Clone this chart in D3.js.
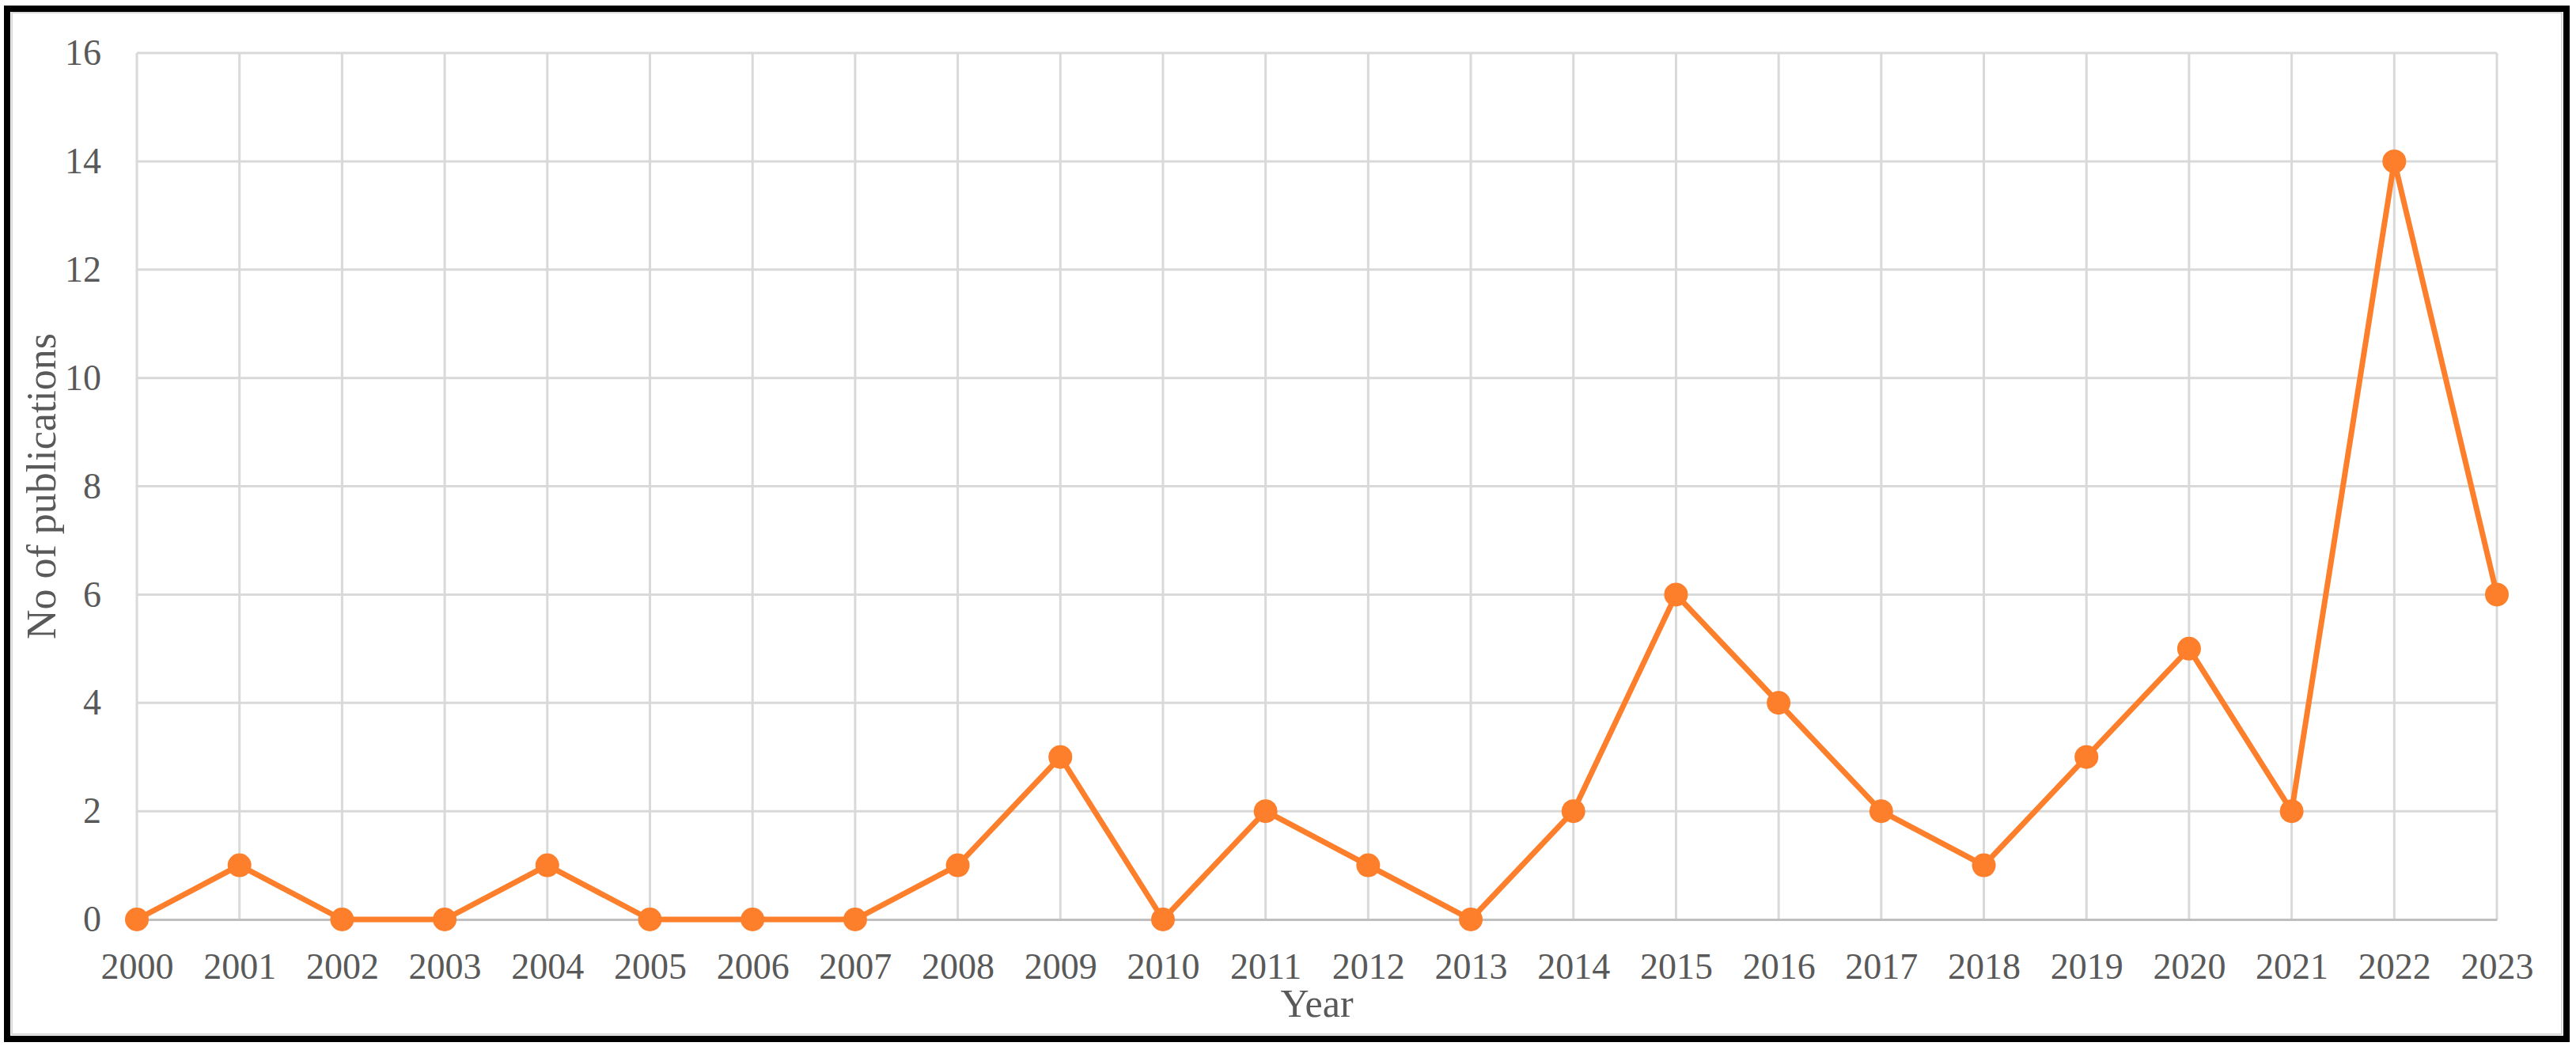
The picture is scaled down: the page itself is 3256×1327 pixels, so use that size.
<!DOCTYPE html>
<html>
<head>
<meta charset="utf-8">
<script src="https://cdn.jsdelivr.net/npm/d3@7"></script>
<style>
  body { margin: 0; background: #fff; }
  .tick text { font-family: "Liberation Serif", "Times New Roman", serif; fill: #595959; }
  .label { font-family: "Liberation Serif", "Times New Roman", serif; fill: #595959; }
</style>
</head>
<body>
<div id="chart"></div>
<script>
var years = [2000, 2001, 2002, 2003, 2004, 2005, 2006, 2007, 2008, 2009, 2010, 2011,
             2012, 2013, 2014, 2015, 2016, 2017, 2018, 2019, 2020, 2021, 2022, 2023];
var publications = [0, 1, 0, 0, 1, 0, 0, 0, 1, 3, 0, 2,
                    1, 0, 2, 6, 4, 2, 1, 3, 5, 2, 14, 6];
var yTicks = [0, 2, 4, 6, 8, 10, 12, 14, 16];

var W = 3256, H = 1327;
var margin = {left: 173, top: 67, right: W - 3156, bottom: H - 1162};
var width = W - margin.left - margin.right,
    height = H - margin.top - margin.bottom;

var data = years.map(function(y, i) { return {t: y, y: publications[i]}; });

var svg = d3.select("#chart").append("svg")
    .attr("width", W)
    .attr("height", H);

/* outer frame: black box with thin grey chart border inside */
svg.append("rect")
    .attr("x", 9).attr("y", 11)
    .attr("width", 3244 - 9).attr("height", 1313 - 11)
    .attr("fill", "#fff")
    .attr("stroke", "#000")
    .attr("stroke-width", 8);
svg.append("rect")
    .attr("x", 15).attr("y", 16)
    .attr("width", 3238 - 15).attr("height", 1307 - 16)
    .attr("fill", "none")
    .attr("stroke", "#d9d9d9")
    .attr("stroke-width", 2);

var x = d3.scaleLinear().domain([2000, 2023]).range([0, width]),
    y = d3.scaleLinear().domain([0, 16]).range([height, 0]);

var g = svg.append("g")
    .attr("transform", "translate(" + margin.left + "," + margin.top + ")");

/* gridlines */
g.append("g").selectAll("line.h")
    .data(yTicks.slice(1))
  .enter().append("line")
    .attr("x1", 0).attr("x2", width)
    .attr("y1", function(d) { return y(d); })
    .attr("y2", function(d) { return y(d); })
    .attr("stroke", "#d9d9d9")
    .attr("stroke-width", 3);

g.append("g").selectAll("line.v")
    .data(years)
  .enter().append("line")
    .attr("x1", function(d) { return x(d); })
    .attr("x2", function(d) { return x(d); })
    .attr("y1", 0).attr("y2", height)
    .attr("stroke", "#d9d9d9")
    .attr("stroke-width", 3);

/* axes */
var xAxis = d3.axisBottom(x).tickValues(years).tickFormat(d3.format("d")).tickSize(0).tickPadding(42),
    yAxis = d3.axisLeft(y).tickValues(yTicks).tickSize(0).tickPadding(45);

var gX = g.append("g")
    .attr("class", "axis axis--x")
    .attr("transform", "translate(0," + height + ")")
    .call(xAxis);
gX.select(".domain").attr("stroke", "#bfbfbf").attr("stroke-width", 3);
gX.selectAll("text").attr("font-size", 46);

var gY = g.append("g")
    .attr("class", "axis axis--y")
    .call(yAxis);
gY.select(".domain").remove();
gY.selectAll("text").attr("font-size", 46);

svg.append("text")
    .attr("class", "label")
    .attr("x", margin.left + width / 2)
    .attr("y", 1285)
    .attr("text-anchor", "middle")
    .attr("font-size", 50)
    .text("Year");

svg.append("text")
    .attr("class", "label")
    .attr("transform", "translate(70," + (margin.top + height / 2) + ") rotate(-90)")
    .attr("text-anchor", "middle")
    .attr("font-size", 52)
    .text("No of publications");

/* series */
var line = d3.line()
    .x(function(d) { return x(d.t); })
    .y(function(d) { return y(d.y); });

g.append("path").datum(data)
    .attr("fill", "none")
    .attr("stroke", "#fd7f2b")
    .attr("stroke-width", 7)
    .attr("stroke-linejoin", "round")
    .attr("d", line);

g.selectAll("circle")
    .data(data)
  .enter().append("circle")
    .attr("cx", function(d) { return x(d.t); })
    .attr("cy", function(d) { return y(d.y); })
    .attr("r", 15)
    .attr("fill", "#fd7f2b");
</script>
</body>
</html>
